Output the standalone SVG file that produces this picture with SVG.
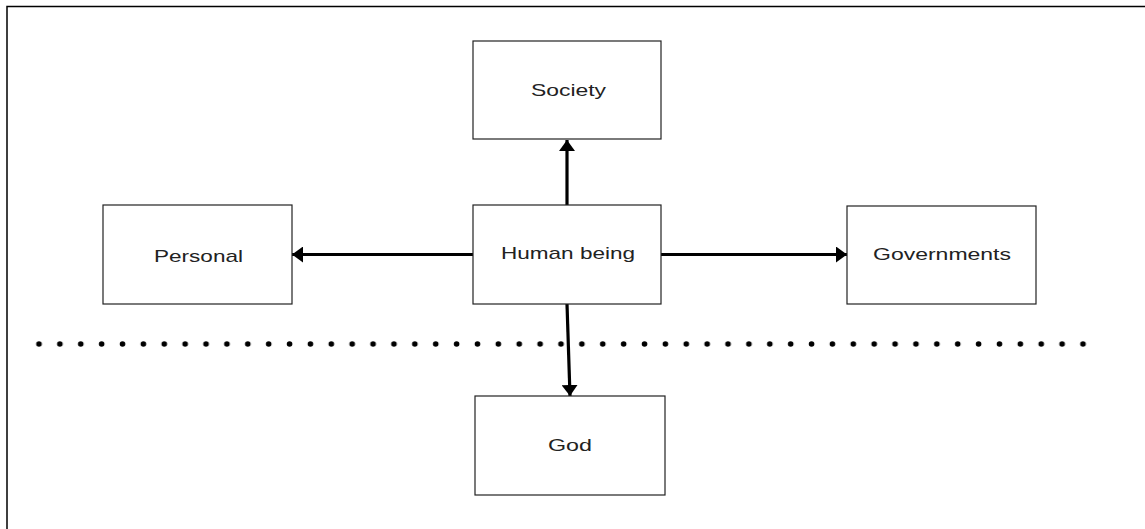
<svg xmlns="http://www.w3.org/2000/svg" width="1145" height="529" viewBox="0 0 1145 529">
<defs>
<style>
.box{fill:#fff;stroke:#222;stroke-width:1.2}
.lbl{font-family:"Liberation Sans",Arial,sans-serif;font-size:17px;fill:#222;text-anchor:middle;dominant-baseline:central}
.con{stroke:#000;stroke-width:3.2;fill:none}
</style>
<marker id="ah" viewBox="0 0 11 16" refX="11" refY="8" markerWidth="11" markerHeight="16" orient="auto" markerUnits="userSpaceOnUse">
<path d="M0,0 L11,8 L0,16 z" fill="#000"/>
</marker>
<pattern id="dots" x="28.5" y="0" width="20.88" height="529" patternUnits="userSpaceOnUse">
<circle cx="10.5" cy="344" r="2.8" fill="#000"/>
</pattern>
</defs>
<rect width="1145" height="529" fill="#fff"/>
<path d="M7,529 V6.5 H1145" fill="none" stroke="#000" stroke-width="1.5"/>
<rect x="28" y="338" width="1062" height="12" fill="url(#dots)"/>
<g id="connectors">
<line class="con" x1="567" y1="206" x2="567" y2="140" marker-end="url(#ah)"/>
<line class="con" x1="473" y1="254.5" x2="292" y2="254.5" marker-end="url(#ah)"/>
<line class="con" x1="661" y1="254.5" x2="847" y2="254.5" marker-end="url(#ah)"/>
<line class="con" x1="567" y1="304" x2="570" y2="396" marker-end="url(#ah)"/>
</g>
<g id="society"><rect class="box" x="473" y="41" width="188" height="98"/><text class="lbl" x="568.5" y="90" textLength="75" lengthAdjust="spacingAndGlyphs">Society</text></g>
<g id="human"><rect class="box" x="473" y="205" width="188" height="99"/><text class="lbl" x="568" y="253" textLength="134" lengthAdjust="spacingAndGlyphs">Human being</text></g>
<g id="personal"><rect class="box" x="103" y="205" width="189" height="99"/><text class="lbl" x="198.5" y="256" textLength="89" lengthAdjust="spacingAndGlyphs">Personal</text></g>
<g id="governments"><rect class="box" x="847" y="206" width="189" height="98"/><text class="lbl" x="942" y="254" textLength="138" lengthAdjust="spacingAndGlyphs">Governments</text></g>
<g id="god"><rect class="box" x="475" y="396" width="190" height="99"/><text class="lbl" x="570" y="445" textLength="44" lengthAdjust="spacingAndGlyphs">God</text></g>
</svg>
